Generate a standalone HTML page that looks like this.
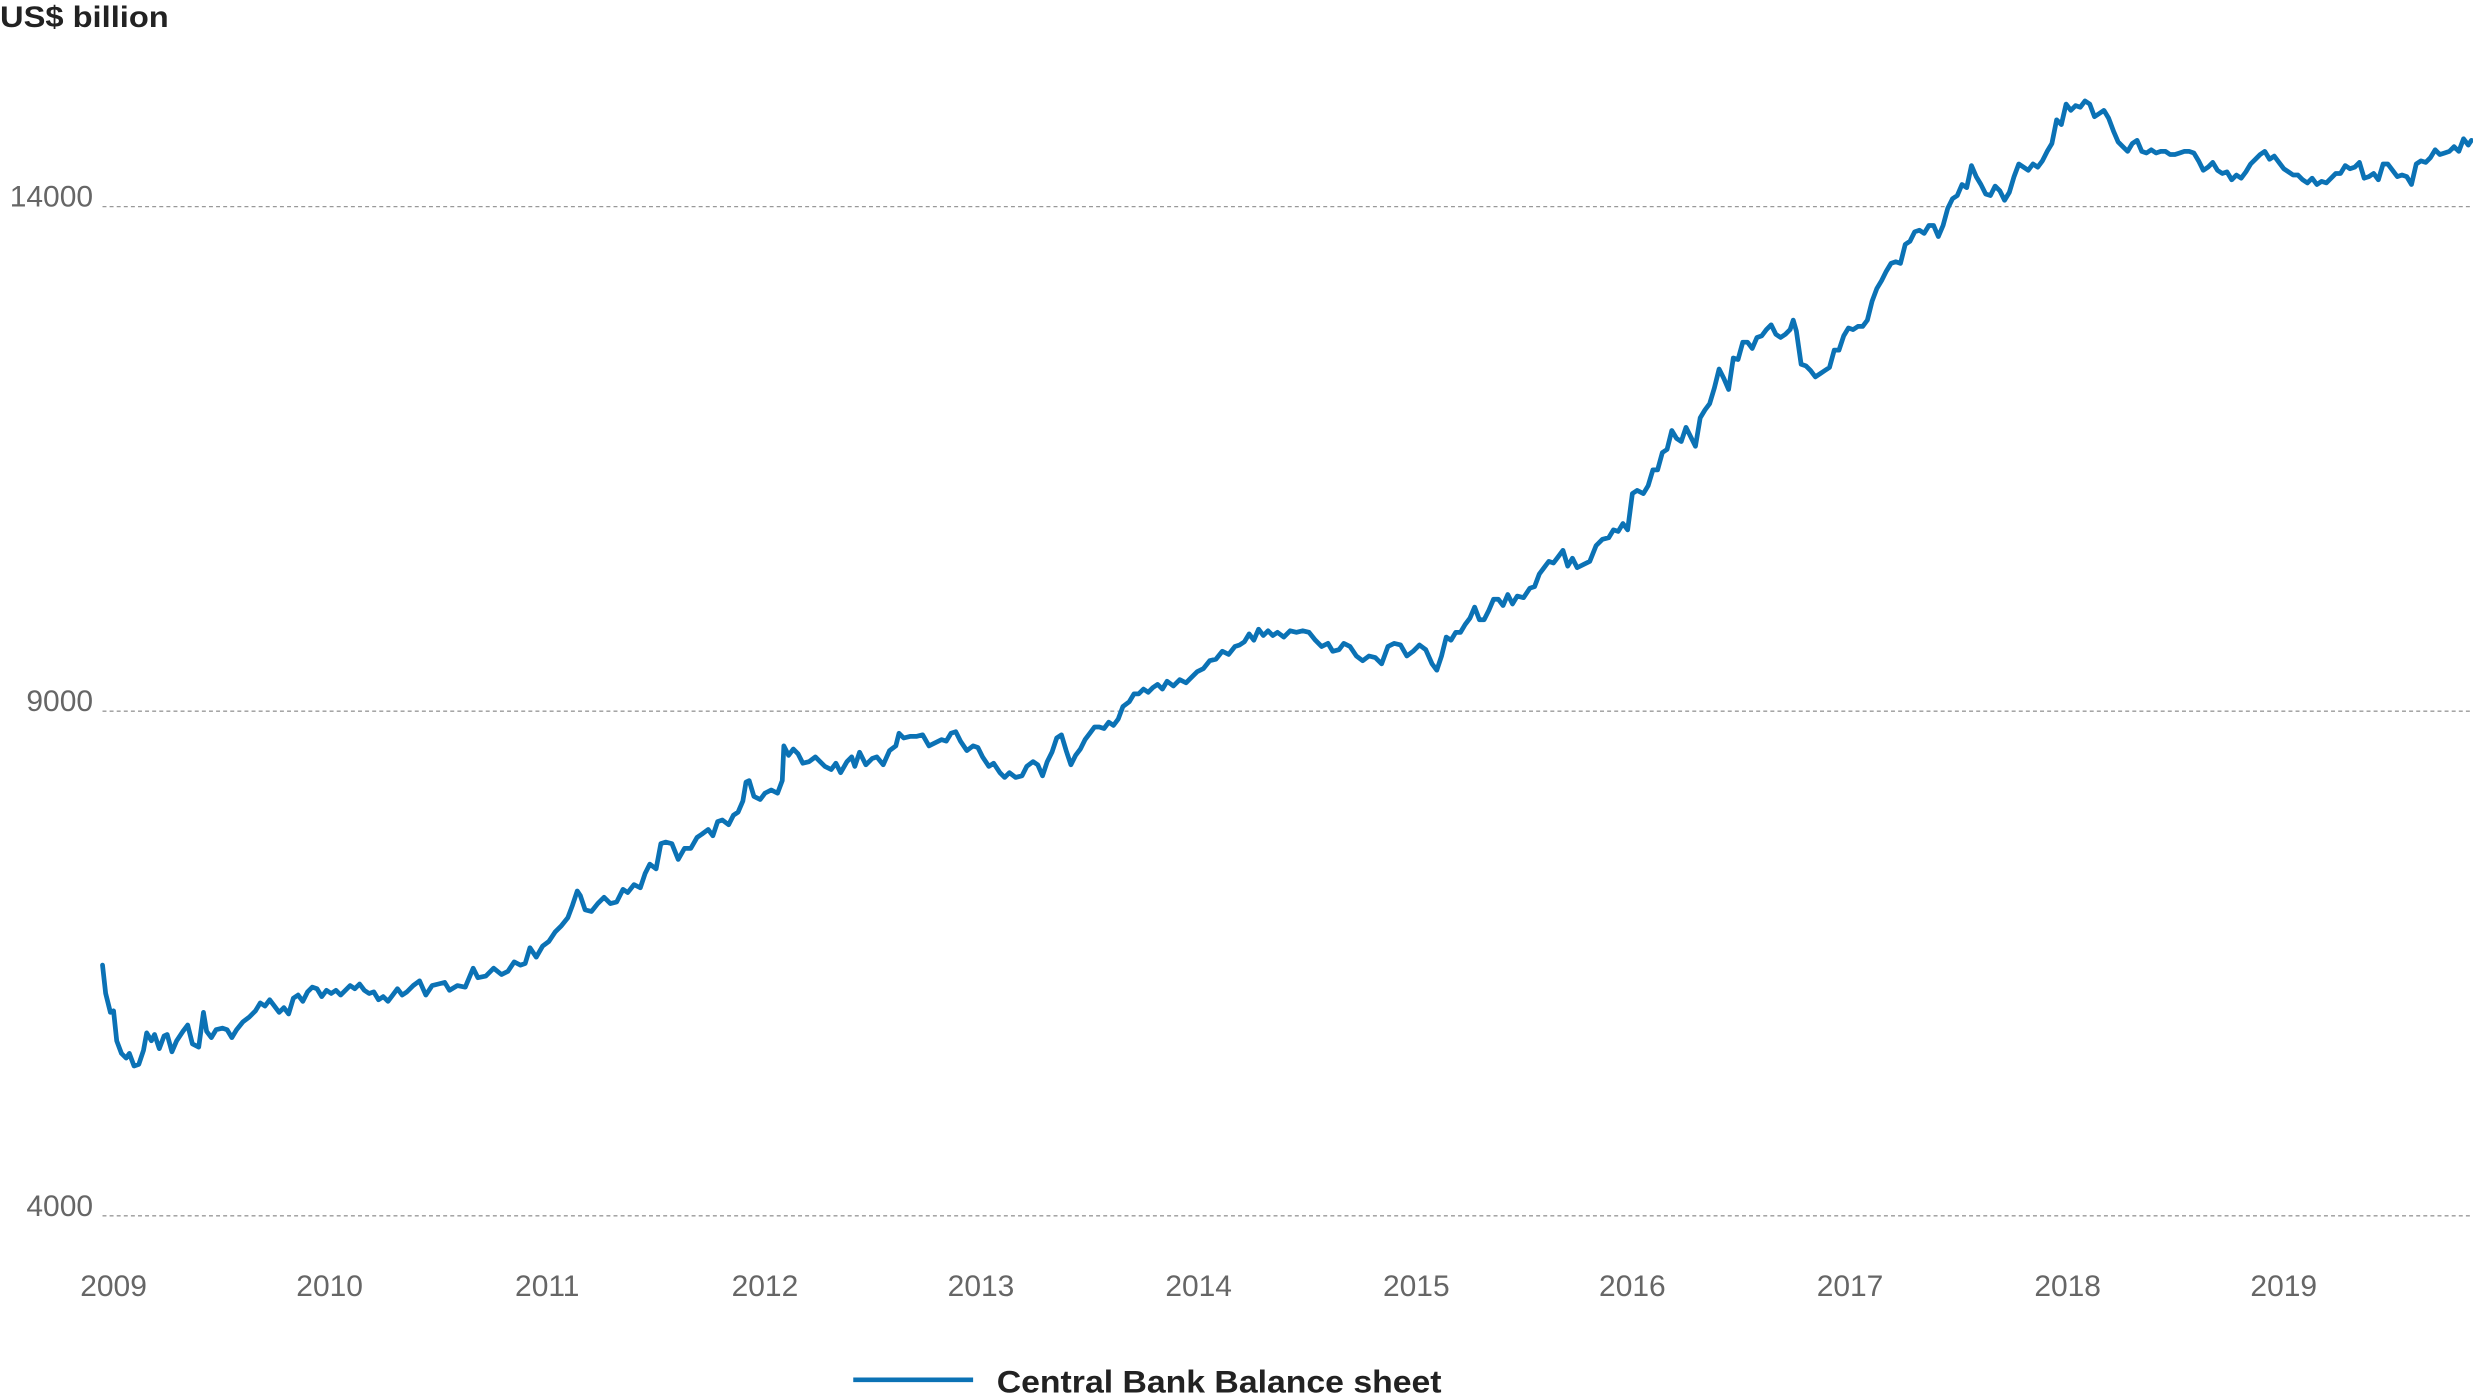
<!DOCTYPE html>
<html><head><meta charset="utf-8"><style>
html,body{margin:0;padding:0;background:#fff;}
svg{display:block;}
text{font-family:"Liberation Sans",sans-serif;}
</style></head><body>
<svg width="2473" height="1394" viewBox="0 0 1568 884" preserveAspectRatio="none">
<text x="0" y="17" font-size="19" font-weight="bold" fill="#222" textLength="107" lengthAdjust="spacingAndGlyphs">US$ billion</text>
<g stroke="#999" stroke-width="0.8" stroke-dasharray="2.5,2">
<line x1="65" y1="131" x2="1568" y2="131"/>
<line x1="65" y1="451" x2="1568" y2="451"/>
<line x1="65" y1="771" x2="1568" y2="771"/>
</g>
<g font-size="19" fill="#666" text-anchor="end">
<text x="59" y="131">14000</text>
<text x="59" y="451">9000</text>
<text x="59" y="771">4000</text>
</g>
<g font-size="19" fill="#666" text-anchor="middle">
<text x="72" y="822">2009</text><text x="209" y="822">2010</text><text x="347" y="822">2011</text>
<text x="485" y="822">2012</text><text x="622" y="822">2013</text><text x="760" y="822">2014</text>
<text x="898" y="822">2015</text><text x="1035" y="822">2016</text><text x="1173" y="822">2017</text>
<text x="1311" y="822">2018</text><text x="1448" y="822">2019</text>
</g>
<polyline fill="none" stroke="#0b72b5" stroke-width="3" stroke-linejoin="round" stroke-linecap="round" points="65,612 67,630 70,642 72,641 74,660 77,668 80,671 82,668 85,676 88,675 91,666 93,655 96,660 98,656 101,665 104,657 106,656 109,667 112,660 116,654 119,650 122,662 126,664 129,642 131,654 134,658 137,653 141,652 144,653 147,658 150,653 154,648 158,645 162,641 165,636 168,638 171,634 174,638 177,642 180,639 183,643 186,633 189,631 192,635 195,629 198,626 201,627 204,632 207,628 210,630 213,628 216,631 219,628 222,625 225,627 228,624 231,628 234,630 237,629 240,634 243,632 246,635 249,631 252,627 255,631 258,629 262,625 266,622 270,631 274,625 278,624 282,623 285,628 290,625 295,626 300,614 303,620 308,619 313,614 318,618 322,616 326,610 330,612 333,611 336,601 340,607 344,600 348,597 352,591 356,587 360,582 363,574 366,565 368,568 371,577 375,578 379,573 383,569 387,573 391,572 395,564 398,566 402,561 406,563 409,554 412,548 416,551 419,535 422,534 426,535 430,545 434,538 438,538 442,531 445,529 449,526 452,530 455,521 458,520 462,523 465,517 468,515 471,508 473,496 475,495 478,505 482,507 485,503 489,501 493,503 496,495 497,473 500,479 503,475 506,478 509,484 513,483 517,480 520,483 523,486 527,488 530,484 533,490 537,483 540,480 542,486 545,477 549,485 553,481 556,480 560,485 564,476 568,473 570,465 573,468 577,467 581,467 585,466 589,473 593,471 597,469 600,470 603,465 606,464 609,470 613,476 617,473 620,474 623,480 627,486 630,484 634,490 637,493 640,490 644,493 648,492 651,486 655,483 658,485 661,492 664,483 667,477 670,468 673,466 676,476 679,485 682,479 685,475 688,469 691,465 694,461 697,461 700,462 703,458 706,460 709,456 712,448 716,445 719,440 722,440 725,437 728,439 731,436 734,434 737,437 740,432 744,435 748,431 752,433 755,430 759,426 763,424 767,419 771,418 775,413 779,415 783,410 786,409 789,407 792,402 795,406 798,399 801,403 804,400 807,403 810,401 814,404 818,400 822,401 826,400 830,401 834,406 838,410 842,408 845,413 849,412 852,408 856,410 860,416 864,419 868,416 872,417 876,421 880,410 884,408 888,409 892,416 896,413 900,409 904,412 908,421 911,425 914,416 917,404 920,406 923,401 926,401 929,396 932,392 935,385 938,393 941,393 944,387 947,380 950,380 953,384 956,377 959,383 962,378 966,379 970,373 973,372 976,364 979,360 982,356 985,357 988,353 991,349 994,359 997,354 1000,360 1004,358 1008,356 1012,346 1016,342 1020,341 1023,336 1026,337 1029,332 1032,336 1035,313 1038,311 1042,313 1045,308 1048,298 1051,298 1054,287 1057,285 1060,273 1063,278 1066,280 1069,271 1072,277 1075,283 1078,265 1081,260 1084,256 1087,246 1090,234 1093,240 1096,247 1099,227 1102,228 1105,217 1108,217 1111,221 1114,214 1117,213 1120,209 1123,206 1126,212 1129,214 1132,212 1135,209 1137,203 1139,210 1142,231 1145,232 1148,235 1151,239 1154,237 1157,235 1160,233 1163,222 1166,222 1169,213 1172,208 1175,209 1178,207 1181,207 1184,203 1187,191 1190,183 1193,178 1196,172 1199,167 1202,166 1205,167 1208,155 1211,153 1214,147 1217,146 1220,148 1223,143 1226,143 1229,150 1232,143 1235,132 1238,126 1241,124 1244,117 1247,119 1250,105 1253,112 1256,117 1259,123 1262,124 1265,118 1268,121 1271,127 1274,122 1277,112 1280,104 1283,106 1286,108 1289,104 1292,106 1295,102 1298,96 1301,91 1304,76 1307,79 1310,66 1313,70 1316,67 1319,68 1322,64 1325,66 1328,74 1331,72 1334,70 1337,75 1340,83 1343,90 1346,93 1349,96 1352,91 1355,89 1358,96 1361,97 1364,95 1367,97 1370,96 1373,96 1376,98 1379,98 1382,97 1385,96 1388,96 1391,97 1394,102 1397,108 1400,106 1403,103 1406,108 1409,110 1412,109 1415,114 1418,111 1421,113 1424,109 1427,104 1430,101 1433,98 1436,96 1439,101 1442,99 1445,103 1448,107 1451,109 1454,111 1457,111 1460,114 1463,116 1466,113 1469,117 1472,115 1475,116 1478,113 1481,110 1484,110 1487,105 1490,107 1493,106 1496,103 1499,113 1502,112 1505,110 1508,114 1511,104 1514,104 1517,108 1520,112 1523,111 1526,112 1529,117 1532,104 1535,102 1538,103 1541,100 1544,95 1547,98 1550,97 1553,96 1556,93 1559,96 1562,88 1565,92 1567,89"/>
<line x1="541" y1="875" x2="617" y2="875" stroke="#0b72b5" stroke-width="3"/>
<text x="632" y="883" font-size="20" font-weight="bold" fill="#222" textLength="282" lengthAdjust="spacingAndGlyphs">Central Bank Balance sheet</text>
</svg>
</body></html>
